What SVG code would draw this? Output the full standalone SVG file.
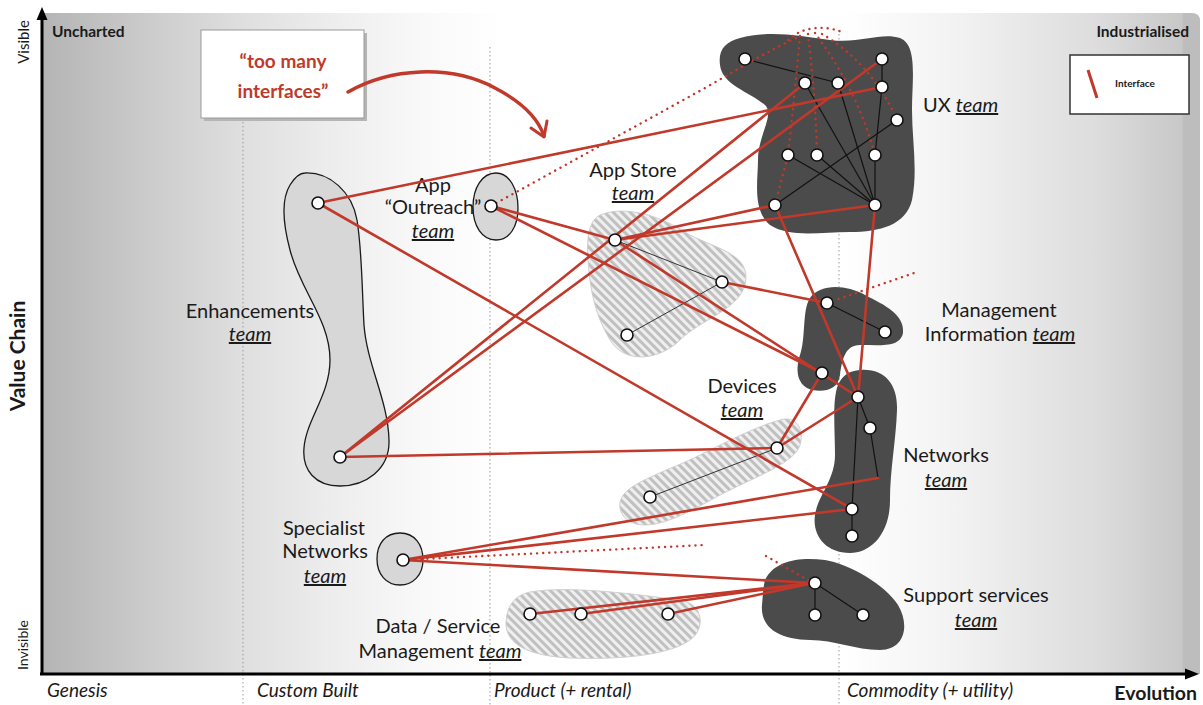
<svg xmlns="http://www.w3.org/2000/svg" width="1203" height="705" viewBox="0 0 1203 705">
<style>
text{font-family:Lato,"Liberation Sans",sans-serif;fill:#1a1a1a}
.lbl{font-size:20px;text-anchor:middle}
.tm{font-style:italic;text-decoration:underline}
.ax{font-size:19px;font-style:italic}
.dark{fill:#4b4b4b}
.light{fill:#d7d7d7;stroke:#1a1a1a;stroke-width:1.3}
.hatch{fill:url(#stripes);stroke:#d0d0d0;stroke-width:1}
.lnk{stroke:#c0392b;stroke-width:2.6;fill:none;stroke-linecap:round}
.dot{stroke:#c0392b;stroke-width:2.4;fill:none;stroke-dasharray:0.1 6;stroke-linecap:round}
.blk{stroke:#111;stroke-width:1.2;fill:none}
.gry{stroke:#333;stroke-width:1;fill:none}
.nd{fill:#fff;stroke:#111;stroke-width:1.6}
.vd{stroke:#9a9a9a;stroke-width:1;stroke-dasharray:1.5 2.5}
</style>
<defs>
<linearGradient id="bg" gradientUnits="userSpaceOnUse" x1="42" y1="0" x2="1200" y2="0">
<stop offset="0" stop-color="#b4b4b4"/>
<stop offset="0.09" stop-color="#cbcbcb"/>
<stop offset="0.174" stop-color="#dfdfdf"/>
<stop offset="0.25" stop-color="#ededed"/>
<stop offset="0.33" stop-color="#f9f9f9"/>
<stop offset="0.4" stop-color="#ffffff"/>
<stop offset="0.69" stop-color="#ffffff"/>
<stop offset="0.79" stop-color="#f2f2f2"/>
<stop offset="0.915" stop-color="#dcdcdc"/>
<stop offset="0.984" stop-color="#c8c8c8"/>
<stop offset="0.986" stop-color="#bdbdbd"/>
<stop offset="1" stop-color="#bdbdbd"/>
</linearGradient>
<pattern id="stripes" width="6" height="6" patternUnits="userSpaceOnUse" patternTransform="rotate(-45)">
<rect width="6" height="6" fill="#efefef"/>
<rect width="3" height="6" fill="#c0c0c0"/>
</pattern>
</defs>

<g id="background">
<rect width="1203" height="705" fill="#ffffff"/>
<path d="M42,13 H1192 Q1200,13 1200,21 V674 H42 Z" fill="url(#bg)"/>
<line class="vd" x1="243" y1="118" x2="243" y2="705"/>
<line class="vd" x1="490" y1="47" x2="490" y2="705"/>
<line class="vd" x1="839" y1="30" x2="839" y2="705"/>
</g>

<g id="axes">
<line x1="42" y1="675" x2="42" y2="18" stroke="#000" stroke-width="3"/>
<polygon points="42,7 36.5,20 47.5,20" fill="#000"/>
<line x1="40" y1="674" x2="1186" y2="674" stroke="#000" stroke-width="3"/>
<polygon points="1199,674 1185,668.5 1185,679.5" fill="#000"/>
<text x="29" y="42" font-size="15" text-anchor="middle" transform="rotate(-90 29 42)">Visible</text>
<text x="28" y="645" font-size="14" text-anchor="middle" transform="rotate(-90 28 645)">Invisible</text>
<text x="25" y="356" font-size="21" font-weight="bold" text-anchor="middle" transform="rotate(-90 25 356)">Value Chain</text>
<text x="52" y="37" font-size="15.5" font-weight="bold">Uncharted</text>
<text x="1189" y="37" font-size="15.5" font-weight="bold" text-anchor="end">Industrialised</text>
<text class="ax" x="47" y="697">Genesis</text>
<text class="ax" x="257" y="697">Custom Built</text>
<text class="ax" x="494" y="697">Product (+ rental)</text>
<text class="ax" x="847" y="697">Commodity (+ utility)</text>
<text x="1197" y="700" font-size="19.5" font-weight="bold" text-anchor="end">Evolution</text>
</g>

<g id="legend">
<rect x="1070" y="55" width="119" height="59" fill="#fff" stroke="#333" stroke-width="1.5"/>
<line x1="1088" y1="70" x2="1097" y2="98" stroke="#c0392b" stroke-width="3"/>
<text x="1115" y="87" font-size="10" font-weight="bold">Interface</text>
</g>

<g id="callout">
<rect x="204" y="33" width="163" height="88" fill="#b5b5b5"/>
<rect x="201" y="30" width="163" height="88" fill="#fff" stroke="#9a9a9a" stroke-width="1"/>
<text x="283" y="68" font-size="19" font-weight="bold" text-anchor="middle" style="fill:#c0392b">“too many</text>
<text x="283" y="98" font-size="19" font-weight="bold" text-anchor="middle" style="fill:#c0392b">interfaces”</text>
<path d="M348,92 C390,68 450,64 495,88 C520,101 538,118 544,136" fill="none" stroke="#c0392b" stroke-width="3.5" stroke-linecap="round"/>
<path d="M531,128 L544,137 L547,121" fill="none" stroke="#c0392b" stroke-width="3" stroke-linecap="round" stroke-linejoin="round"/>
</g>

<g id="team-shapes">
<g id="enhancements-team">
<path class="light" d="M305,173 C330,172 352,192 357,220 C362,250 362,290 364,325 C367,365 388,400 389,440 C390,470 365,486 340,486 C315,486 302,470 304,448 C306,420 330,395 330,360 C330,320 300,290 290,250 C282,220 282,198 290,185 C295,177 300,173 305,173 Z"/>
<text class="lbl" x="250" y="318">Enhancements</text>
<text class="lbl tm" x="250" y="341">team</text>
</g>
<g id="outreach-team">
<path class="light" d="M496,173 C510,173 518,190 518,208 C518,226 510,240 496,240 C482,240 473,226 473,207 C473,188 482,173 496,173 Z"/>
<text class="lbl" x="433" y="192">App</text>
<text class="lbl" x="433" y="214">“Outreach”</text>
<text class="lbl tm" x="433" y="238">team</text>
</g>
<g id="appstore-team">
<path class="hatch" d="M600,215 C625,205 660,215 690,235 C720,250 752,255 745,285 C738,310 700,320 680,340 C660,360 625,365 610,340 C595,315 590,290 588,260 C586,235 590,220 600,215 Z"/>
<line class="gry" x1="615" y1="240" x2="722" y2="282"/>
<line class="gry" x1="722" y1="282" x2="627" y2="335"/>
<text class="lbl" x="633" y="177">App Store</text>
<text class="lbl tm" x="633" y="200">team</text>
</g>
<g id="ux-team">
<path class="dark" d="M740,38 C770,30 800,36 830,40 C860,44 880,32 900,38 C918,45 912,80 912,110 C912,140 918,170 912,200 C906,225 880,232 850,232 C820,232 790,238 770,225 C752,210 758,180 758,160 C758,135 775,115 765,105 C750,92 722,85 720,65 C718,50 725,42 740,38 Z"/>
<g class="blk">
<line x1="745" y1="59" x2="838" y2="83"/>
<line x1="805" y1="83" x2="875" y2="205"/>
<line x1="838" y1="83" x2="875" y2="205"/>
<line x1="882" y1="59" x2="882" y2="87"/>
<line x1="882" y1="87" x2="875" y2="155"/>
<line x1="897" y1="120" x2="775" y2="205"/>
<line x1="788" y1="155" x2="875" y2="205"/>
<line x1="817" y1="155" x2="875" y2="205"/>
<line x1="875" y1="155" x2="875" y2="205"/>
</g>
<text x="923" y="112" font-size="20">UX <tspan class="tm">team</tspan></text>
</g>
<g id="management-information-team">
<path class="dark" d="M810,298 C820,284 845,284 865,295 C885,305 905,315 903,333 C900,348 880,345 860,345 C845,345 842,360 840,375 C838,390 825,392 812,390 C797,386 795,370 800,355 C806,338 802,310 810,298 Z"/>
<line class="blk" x1="827" y1="303" x2="885" y2="332"/>
<text class="lbl" x="999" y="317">Management</text>
<text class="lbl" x="1000" y="341">Information <tspan class="tm">team</tspan></text>
</g>
<g id="devices-team">
<path class="hatch" d="M780,420 C795,415 805,428 800,445 C795,462 760,475 730,490 C700,505 670,525 645,525 C625,525 615,510 622,497 C630,482 670,470 700,455 C730,440 760,425 780,420 Z"/>
<line class="gry" x1="777" y1="448" x2="650" y2="497"/>
<text class="lbl" x="742" y="393">Devices</text>
<text class="lbl tm" x="742" y="417">team</text>
</g>
<g id="networks-team">
<path class="dark" d="M860,370 C885,368 898,385 897,410 C896,440 890,470 890,500 C890,535 870,553 850,553 C825,553 812,535 815,515 C818,495 835,480 835,455 C835,430 832,400 838,385 C843,374 850,371 860,370 Z"/>
<g class="blk">
<line x1="858" y1="397" x2="870" y2="428"/>
<line x1="870" y1="428" x2="878" y2="478"/>
<line x1="858" y1="397" x2="852" y2="509"/>
<line x1="852" y1="509" x2="852" y2="536"/>
</g>
<text class="lbl" x="946" y="462">Networks</text>
<text class="lbl tm" x="946" y="487">team</text>
</g>
<g id="specialist-networks-team">
<path class="light" d="M400,533 C415,533 423,545 423,560 C423,575 413,585 400,585 C386,585 377,574 377,559 C377,543 386,533 400,533 Z"/>
<text class="lbl" x="324" y="535">Specialist</text>
<text class="lbl" x="325" y="558">Networks</text>
<text class="lbl tm" x="325" y="583">team</text>
</g>
<g id="data-service-management-team">
<path class="hatch" d="M530,592 C570,585 640,595 680,600 C705,604 705,630 690,640 C670,655 620,660 570,658 C530,656 505,645 506,622 C507,605 515,595 530,592 Z"/>
<text class="lbl" x="438" y="633">Data / Service</text>
<text class="lbl" x="440" y="658">Management <tspan class="tm">team</tspan></text>
</g>
<g id="support-services-team">
<path class="dark" d="M765,580 C775,560 800,557 825,560 C850,564 885,585 898,605 C910,625 905,650 880,650 C855,650 835,640 810,640 C780,640 760,628 762,605 C763,595 763,588 765,580 Z"/>
<line class="blk" x1="815" y1="583" x2="815" y2="615"/>
<line class="blk" x1="815" y1="583" x2="863" y2="615"/>
<text class="lbl" x="976" y="602">Support services</text>
<text class="lbl tm" x="976" y="627">team</text>
</g>
</g>

<g id="connectors">
<g id="interfaces">
<line class="lnk" x1="318" y1="203" x2="882" y2="87"/>
<line class="lnk" x1="318" y1="203" x2="852" y2="509"/>
<line class="lnk" x1="340" y1="457" x2="805" y2="83"/>
<line class="lnk" x1="340" y1="457" x2="882" y2="59"/>
<line class="lnk" x1="340" y1="457" x2="777" y2="448"/>
<line class="lnk" x1="491" y1="206" x2="615" y2="240"/>
<line class="lnk" x1="491" y1="206" x2="822" y2="373"/>
<line class="lnk" x1="615" y1="240" x2="775" y2="205"/>
<line class="lnk" x1="615" y1="240" x2="875" y2="205"/>
<line class="lnk" x1="615" y1="240" x2="858" y2="397"/>
<line class="lnk" x1="722" y1="282" x2="827" y2="303"/>
<line class="lnk" x1="775" y1="205" x2="858" y2="397"/>
<line class="lnk" x1="875" y1="205" x2="858" y2="397"/>
<line class="lnk" x1="822" y1="373" x2="777" y2="448"/>
<line class="lnk" x1="858" y1="397" x2="777" y2="448"/>
<line class="lnk" x1="403" y1="560" x2="878" y2="478"/>
<line class="lnk" x1="403" y1="560" x2="852" y2="509"/>
<line class="lnk" x1="403" y1="560" x2="813" y2="583"/>
<line class="lnk" x1="530" y1="614" x2="813" y2="583"/>
<line class="lnk" x1="581" y1="614" x2="813" y2="583"/>
<line class="lnk" x1="668" y1="614" x2="813" y2="583"/>
</g>
<g id="dotted-interfaces">
<path class="dot" d="M491,206 L705,88 C740,68 770,50 800,36"/>
<path class="dot" d="M800,36 C796,80 792,120 788,155 L775,205"/>
<path class="dot" d="M808,34 C812,70 816,110 817,155"/>
<path class="dot" d="M815,33 C835,60 860,100 875,155"/>
<path class="dot" d="M822,34 C850,50 880,80 897,120"/>
<path class="dot" d="M788,40 C800,28 822,24 842,32"/>
<path class="dot" d="M827,303 L917,272"/>
<path class="dot" d="M403,560 L705,545"/>
<path class="dot" d="M766,556 L813,583"/>
</g>
</g>

<g id="team-nodes">
<g id="enhancements-nodes"><circle class="nd" cx="318" cy="203" r="6"/><circle class="nd" cx="340" cy="457" r="6"/></g>
<g id="outreach-nodes"><circle class="nd" cx="491" cy="206" r="6"/></g>
<g id="appstore-nodes"><circle class="nd" cx="615" cy="240" r="6"/><circle class="nd" cx="722" cy="282" r="6"/><circle class="nd" cx="627" cy="335" r="6"/></g>
<g id="ux-nodes">
<circle class="nd" cx="745" cy="59" r="6"/><circle class="nd" cx="805" cy="83" r="6"/><circle class="nd" cx="838" cy="83" r="6"/>
<circle class="nd" cx="882" cy="59" r="6"/><circle class="nd" cx="882" cy="87" r="6"/><circle class="nd" cx="897" cy="120" r="6"/>
<circle class="nd" cx="788" cy="155" r="6"/><circle class="nd" cx="817" cy="155" r="6"/><circle class="nd" cx="875" cy="155" r="6"/>
<circle class="nd" cx="775" cy="205" r="6"/><circle class="nd" cx="875" cy="205" r="6"/>
</g>
<g id="management-nodes"><circle class="nd" cx="827" cy="303" r="6"/><circle class="nd" cx="885" cy="332" r="6"/><circle class="nd" cx="822" cy="373" r="6"/></g>
<g id="devices-nodes"><circle class="nd" cx="777" cy="448" r="6"/><circle class="nd" cx="650" cy="497" r="6"/></g>
<g id="networks-nodes"><circle class="nd" cx="858" cy="397" r="6"/><circle class="nd" cx="870" cy="428" r="6"/><circle class="nd" cx="852" cy="509" r="6"/><circle class="nd" cx="852" cy="536" r="6"/></g>
<g id="specialist-nodes"><circle class="nd" cx="403" cy="560" r="6"/></g>
<g id="data-service-nodes"><circle class="nd" cx="530" cy="614" r="6"/><circle class="nd" cx="581" cy="614" r="6"/><circle class="nd" cx="668" cy="614" r="6"/></g>
<g id="support-nodes"><circle class="nd" cx="815" cy="583" r="6"/><circle class="nd" cx="815" cy="615" r="6"/><circle class="nd" cx="863" cy="615" r="6"/></g>
</g>
</svg>
